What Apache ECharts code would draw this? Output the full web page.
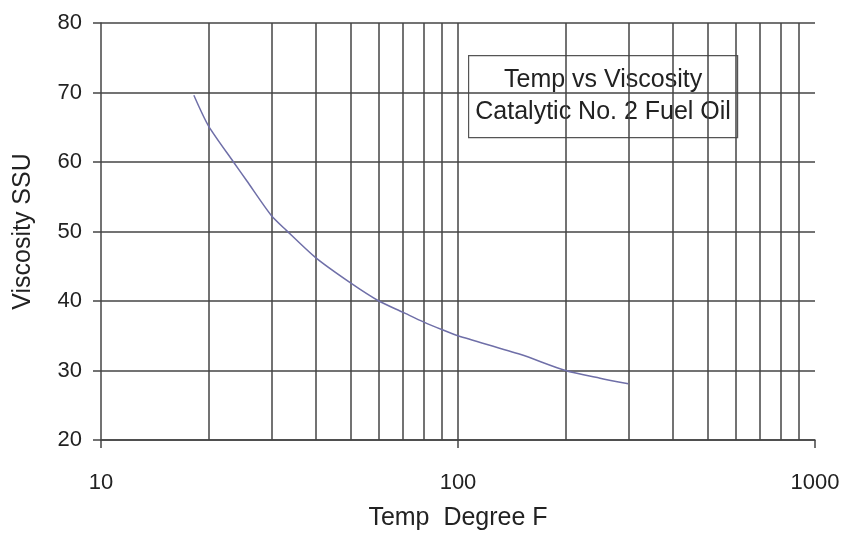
<!DOCTYPE html>
<html>
<head>
<meta charset="utf-8">
<script src="https://cdn.jsdelivr.net/npm/echarts@6/dist/echarts.min.js"></script>
<style>
html,body{margin:0;padding:0;background:#fff;}
#chart{width:846px;height:536px;}
</style>
</head>
<body>
<div id="chart"></div>
<script>
// Data
var tempF = [18.2, 20, 23.5, 25.6, 30, 33, 40, 50, 60, 70, 80, 90, 100, 150, 200, 250, 300];
var viscositySSU = [69.6, 65.2, 60.0, 57.3, 52.3, 50.2, 46.2, 42.6, 40.0, 38.4, 37.0, 35.9, 35.0, 32.3, 30.0, 28.9, 28.1];
var minorGridX = [20, 30, 40, 50, 60, 70, 80, 90, 100, 200, 300, 400, 500, 600, 700, 800, 900];
var titleLines = ['Temp vs Viscosity', 'Catalytic No. 2 Fuel Oil'];
var xName = 'Temp  Degree F';
var yName = 'Viscosity SSU';

var FONT = '"Liberation Sans", Arial, sans-serif';
var GRID = '#444444';

var chart = echarts.init(document.getElementById('chart'));
var points = tempF.map(function (t, i) { return [t, viscositySSU[i]]; });

chart.setOption({
  animation: false,
  backgroundColor: '#fff',
  grid: { left: 101, right: 31, top: 23, bottom: 94 },
  xAxis: {
    type: 'log', logBase: 10, min: 10, max: 1000,
    name: xName, nameLocation: 'middle', nameGap: 66,
    nameTextStyle: { fontFamily: FONT, fontSize: 25, color: '#222' },
    axisLine: { show: true, lineStyle: { color: GRID, width: 1.5 } },
    axisTick: { show: true, inside: false, length: 8, lineStyle: { color: GRID, width: 1.5 } },
    axisLabel: { fontFamily: FONT, fontSize: 22, color: '#222', margin: 32,
      formatter: function (v) { return String(Math.round(v)); } },
    splitLine: { show: false },
    minorTick: { show: false }
  },
  yAxis: {
    type: 'value', min: 20, max: 80, interval: 10,
    name: yName, nameLocation: 'middle', nameGap: 65, nameRotate: 90,
    nameTextStyle: { fontFamily: FONT, fontSize: 25, color: '#222' },
    axisLine: { show: true, lineStyle: { color: GRID, width: 1.5 } },
    axisTick: { show: true, length: 8, lineStyle: { color: GRID, width: 1.5 } },
    axisLabel: { fontFamily: FONT, fontSize: 22, color: '#222', margin: 19 },
    splitLine: { show: true, lineStyle: { color: GRID, width: 1.5 } }
  },
  series: [{
    type: 'line',
    data: points,
    smooth: 0.25,
    showSymbol: false,
    lineStyle: { color: '#6f6fa8', width: 1.5 },
    z: 5,
    markLine: {
      silent: true,
      symbol: ['none', 'none'],
      label: { show: false },
      lineStyle: { color: GRID, width: 1.5, type: 'solid' },
      data: minorGridX.map(function (v) { return { xAxis: v }; }),
      z: 1
    }
  }],
  graphic: [{
    type: 'group',
    left: 468, top: 55, z: 100,
    children: [{
      type: 'rect',
      shape: { x: 0, y: 0, width: 269, height: 82 },
      style: { fill: '#fff', stroke: '#555', lineWidth: 1.2 }
    }, {
      type: 'text',
      x: 134.5, y: 41,
      style: {
        text: titleLines.join('\n'),
        font: '25px ' + FONT,
        fill: '#222',
        textAlign: 'center',
        textVerticalAlign: 'middle',
        lineHeight: 32
      }
    }]
  }]
});
</script>
</body>
</html>
